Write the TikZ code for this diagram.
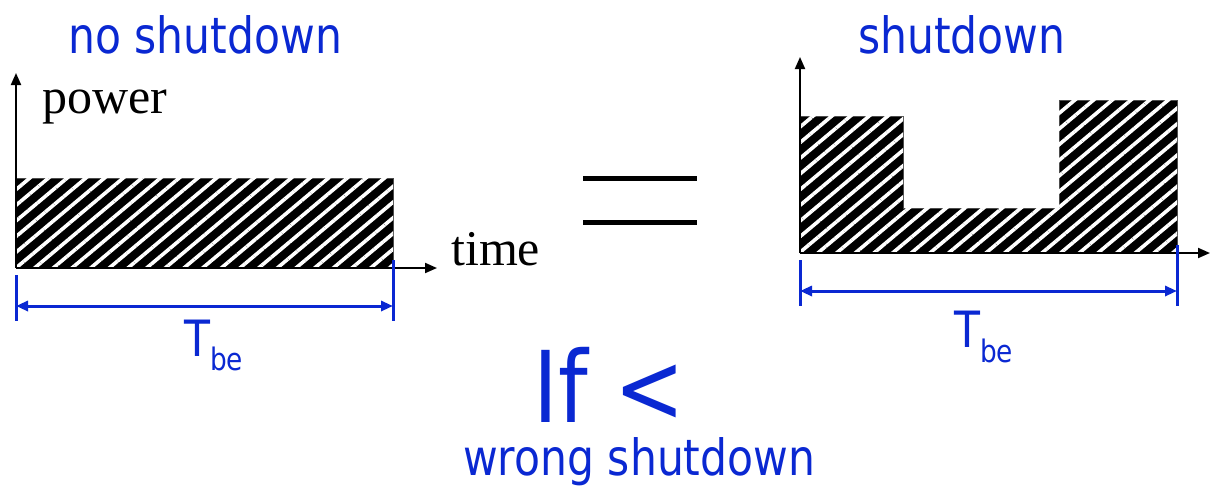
\documentclass[tikz,border=0pt]{standalone}
\usepackage{fontspec}
\setmainfont{Liberation Serif}
\newfontfamily\blufont[FakeStretch=0.85]{DejaVu Sans}
\usetikzlibrary{arrows.meta,patterns.meta}
\definecolor{lblue}{RGB}{10,40,210}
\begin{document}
\begin{tikzpicture}[x=1pt, y=-1pt, line join=miter, >={Triangle[length=12pt,width=10pt]},
	hatch/.style={fill=black, draw=black!70, line width=0.8pt,
		postaction={pattern={Lines[angle=40,distance=12pt,line width=3.6pt]}, pattern color=white}},
	axis/.style={draw=black, line width=2pt, ->},
	dim/.style={draw=lblue, line width=3pt, <->},
	dimtick/.style={draw=lblue, line width=3pt},
	blu/.style={text=lblue, font=\blufont\fontsize{50}{50}\selectfont, inner sep=0pt, anchor=base west},
	serif/.style={font=\fontsize{50}{50}\selectfont, inner sep=0pt, anchor=base west}]
	\useasboundingbox (0,0) rectangle (1212,485);
	% left: no shutdown
	\coordinate (o1) at (16,268);
	\coordinate (y1) at (16,73);
	\coordinate (x1) at (437,268);
	\path[hatch] (16,178) rectangle (393,268);
	\draw[axis] (o1) -- (y1);
	\draw[axis] (o1) -- (x1);
	\coordinate (d1a) at (16,306);
	\coordinate (d1b) at (393,306);
	\draw[dimtick] (16,275) -- (16,321);
	\draw[dimtick] (393,260) -- (393,321);
	\draw[dim] (d1a) -- (d1b);
	\node[blu] (tbe1) at (184,356) {T\raisebox{-14pt}{\fontsize{31}{31}\selectfont be}};
	\node[blu] (noshut) at (68,53) {no shutdown};
	\node[serif] (power) at (42,113) {power};
	\node[serif] (time) at (451,265) {time};
	% equals sign
	\draw[line width=5pt] (583,178) -- (697,178);
	\draw[line width=5pt] (583,222) -- (697,222);
	% right: shutdown
	\coordinate (o2) at (800,253);
	\coordinate (y2) at (800,57);
	\coordinate (x2) at (1210,253);
	\path[hatch] (800,116) -- (903,116) -- (903,208) -- (1059,208) -- (1059,100)
		-- (1177,100) -- (1177,253) -- (800,253) -- cycle;
	\draw[axis] (o2) -- (y2);
	\draw[axis] (o2) -- (x2);
	\coordinate (d2a) at (800,291);
	\coordinate (d2b) at (1177,291);
	\draw[dimtick] (800,260) -- (800,306);
	\draw[dimtick] (1177,245) -- (1177,306);
	\draw[dim] (d2a) -- (d2b);
	\node[blu] (tbe2) at (954,347) {T\raisebox{-15pt}{\fontsize{31}{31}\selectfont be}};
	\node[blu] (shut) at (858,53) {shutdown};
	% condition
	\node[blu, font=\blufont\fontsize{99}{99}\selectfont] (cond) at (533,422) {If <};
	\node[blu] (wrong) at (463,475) {wrong shutdown};
\end{tikzpicture}
\end{document}
